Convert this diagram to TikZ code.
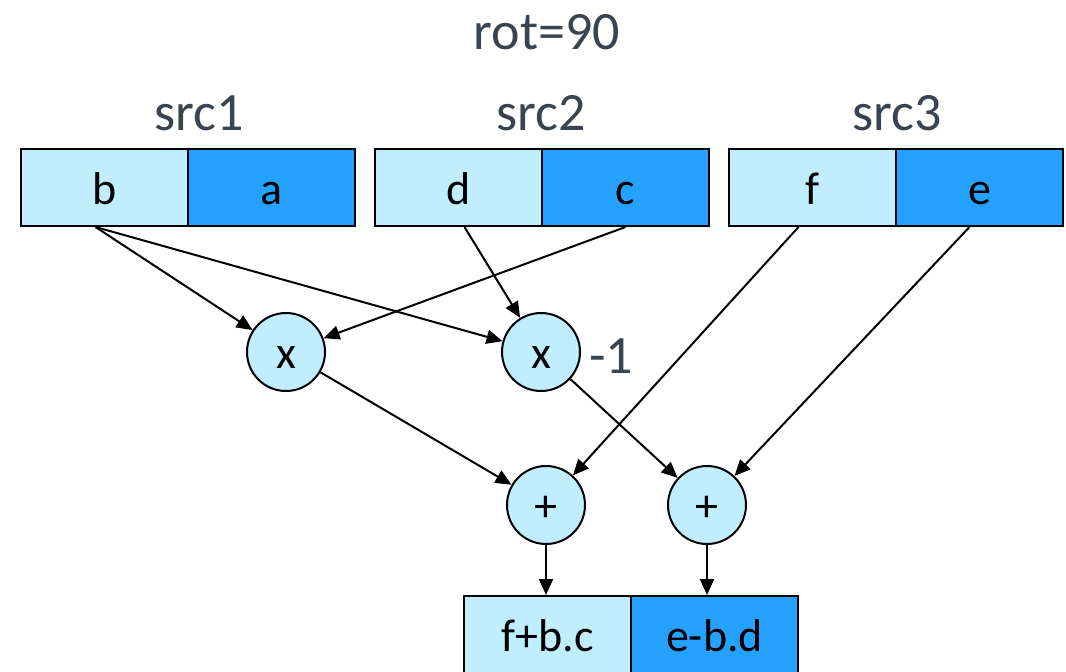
\documentclass[tikz,border=0pt]{standalone}
\usepackage{fontspec}
\setmainfont{Carlito}
\usetikzlibrary{arrows.meta}
\definecolor{lightcell}{HTML}{C0EEFF}
\definecolor{darkcell}{HTML}{25A2FF}
\definecolor{titlegray}{HTML}{3A4450}
\begin{document}
\begin{tikzpicture}[x=1pt,y=-1pt,
  cell/.style={draw=black,line width=2pt,minimum width=167pt,minimum height=77pt,
    inner sep=0pt,anchor=north west,text height=33pt,text depth=0pt,
    font=\fontsize{46}{50}\selectfont},
  lcell/.style={cell,fill=lightcell},
  dcell/.style={cell,fill=darkcell},
  op/.style={circle,draw=black,line width=2pt,fill=lightcell,minimum size=78pt,
    inner sep=0pt,text height=32pt,text depth=0pt,font=\fontsize{46}{50}\selectfont},
  title/.style={text=titlegray,font=\fontsize{54}{58}\selectfont},
  link/.style={line width=2pt,-{Triangle[length=16pt,width=14pt]}}]
\useasboundingbox (0,0) rectangle (1066,672);
% headings
\node[title] (rot) at (547,32) {rot=90};
\node[title] (s1) at (199,113) {src1};
\node[title] (s2) at (541,113) {src2};
\node[title] (s3) at (897,113) {src3};
% source registers
\node[lcell] (b) at (20,148) {b};
\node[dcell] (a) at (187,148) {a};
\node[lcell] (d) at (374,148) {d};
\node[dcell] (c) at (541,148) {c};
\node[lcell] (f) at (728,148) {f};
\node[dcell] (e) at (895,148) {e};
% operators
\node[op] (m1) at (286,352) {x};
\node[op] (m2) at (541,352) {x};
\node[title] (neg) at (611,356) {-1};
\node[op] (p1) at (546,505) {+};
\node[op] (p2) at (707,505) {+};
% destination register
\node[lcell] (r1) at (463,595) {f+b.c};
\node[dcell] (r2) at (630,595) {e-b.d};
% data flow
\draw[link] ([xshift=-9pt]b.south) -- (m1);
\draw[link] ([xshift=-9pt]b.south) -- (m2);
\draw[link] (c.south) -- (m1);
\draw[link] ([xshift=6pt]d.south) -- (m2);
\draw[link] ([xshift=-14pt]f.south) -- (p1);
\draw[link] ([xshift=-10pt]e.south) -- (p2);
\draw[link] (m1) -- (p1);
\draw[link] (m2) -- (p2);
\draw[link] (p1) -- (p1 |- r1.north);
\draw[link] (p2) -- (p2 |- r2.north);
\end{tikzpicture}
\end{document}
